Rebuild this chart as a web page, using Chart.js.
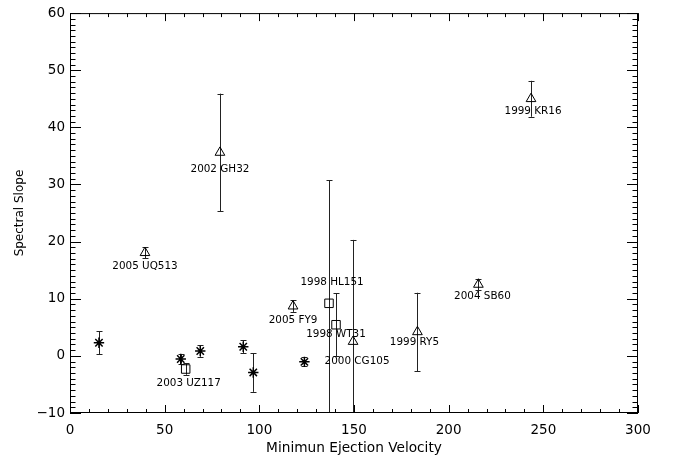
<!DOCTYPE html>
<html>
<head>
<meta charset="utf-8">
<script src="https://cdn.jsdelivr.net/npm/chart.js@4/dist/chart.umd.min.js"></script>
<style>
  html, body { margin: 0; padding: 0; background: #fff; }
  #wrap { width: 675px; height: 458px; }
</style>
</head>
<body>
<div id="wrap"><canvas id="chart"></canvas></div>
<script>
// objects without a name (asterisks)
const starX = [15.3, 58.5, 68.8, 91.5, 96.8, 123.8];
const starY = [2.3, -0.55, 0.85, 1.6, -2.9, -1.05];
const starErr = [2.0, 0.8, 1.0, 1.1, 3.4, 0.8];

// squares
const squareNames = ['2003 UZ117', '1998 HL151', '1998 WT31'];
const squareX = [61.1, 136.8, 140.5];
const squareY = [-2.3, 9.2, 5.45];
const squareErr = [1.0, 21.5, 5.5];

// triangles
const triNames = ['2005 UQ513', '2002 GH32', '2005 FY9', '2000 CG105', '1999 RY5', '2004 SB60', '1999 KR16'];
const triX = [39.6, 79.2, 117.8, 149.5, 183.5, 215.7, 243.5];
const triY = [18.05, 35.6, 8.7, 2.5, 4.2, 12.5, 45.0];
const triErr = [1.0, 10.3, 1.0, 17.8, 6.85, 1.0, 3.15];

const xTicks = [0, 50, 100, 150, 200, 250, 300];
const yTicks = [-10, 0, 10, 20, 30, 40, 50, 60];

// label placement in pixels relative to the point
const labelShift = {
    '2003 UZ117': [3, 14],
    '1998 HL151': [3, -21],
    '1998 WT31': [0, 10],
    '2000 CG105': [4, 20],
    '1999 RY5': [-3, 10],
    '2004 SB60': [4, 12],
    '2005 FY9': [0, 14],
    '1999 KR16': [2, 13],
    '2002 GH32': [0, 17],
    '2005 UQ513': [0, 14]
};

const FONT = 'DejaVu Sans';

function toPoints(xs, ys, errs, names) {
    return xs.map((x, i) => ({ x: x, y: ys[i], err: errs[i], name: names ? names[i] : null }));
}

// inward ticks on all four sides + box
const boxTicks = {
    id: 'boxTicks',
    afterDraw(chart) {
        const ctx = chart.ctx;
        const a = chart.chartArea;
        const xs = chart.scales.x;
        const ys = chart.scales.y;
        ctx.save();
        ctx.strokeStyle = '#000';
        ctx.lineWidth = 1;
        ctx.strokeRect(a.left + 0.5, a.top + 0.5, a.right - a.left - 1, a.bottom - a.top - 1);
        ctx.beginPath();
        for (let v = xs.min; v <= xs.max + 0.001; v += 10) {
            const px = Math.round(xs.getPixelForValue(v)) + 0.5;
            const len = (v % 50 === 0) ? 8 : 4;
            ctx.moveTo(px, a.bottom); ctx.lineTo(px, a.bottom - len);
            ctx.moveTo(px, a.top); ctx.lineTo(px, a.top + len);
        }
        for (let v = ys.min; v <= ys.max + 0.001; v += 1) {
            const py = Math.round(ys.getPixelForValue(v)) + 0.5;
            const len = (Math.round(v) % 10 === 0) ? 11 : 5.5;
            ctx.moveTo(a.left, py); ctx.lineTo(a.left + len, py);
            ctx.moveTo(a.right, py); ctx.lineTo(a.right - len, py);
        }
        ctx.stroke();
        ctx.restore();
    }
};

// error bars and name labels
const errAndLabels = {
    id: 'errAndLabels',
    beforeDatasetsDraw(chart) {
        const ctx = chart.ctx;
        const a = chart.chartArea;
        const xs = chart.scales.x;
        const ys = chart.scales.y;
        ctx.save();
        ctx.beginPath();
        ctx.rect(a.left, a.top, a.right - a.left, a.bottom - a.top);
        ctx.clip();
        ctx.strokeStyle = '#222';
        ctx.lineWidth = 1;
        chart.data.datasets.forEach(ds => {
            ds.data.forEach(p => {
                const px = Math.round(xs.getPixelForValue(p.x)) + 0.5;
                const top = ys.getPixelForValue(p.y + p.err);
                const bot = ys.getPixelForValue(p.y - p.err);
                ctx.beginPath();
                ctx.moveTo(px, top); ctx.lineTo(px, bot);
                ctx.moveTo(px - 3, Math.round(top) + 0.5); ctx.lineTo(px + 3, Math.round(top) + 0.5);
                ctx.moveTo(px - 3, Math.round(bot) + 0.5); ctx.lineTo(px + 3, Math.round(bot) + 0.5);
                ctx.stroke();
            });
        });
        ctx.restore();
    },
    afterDatasetsDraw(chart) {
        const ctx = chart.ctx;
        const xs = chart.scales.x;
        const ys = chart.scales.y;
        ctx.save();
        ctx.fillStyle = '#000';
        ctx.font = '10.4px "' + FONT + '"';
        ctx.textAlign = 'center';
        ctx.textBaseline = 'middle';
        chart.data.datasets.forEach(ds => {
            ds.data.forEach(p => {
                if (!p.name) return;
                const s = labelShift[p.name] || [0, 14];
                ctx.fillText(p.name, xs.getPixelForValue(p.x) + s[0], ys.getPixelForValue(p.y) + s[1]);
            });
        });
        ctx.restore();
    }
};

const ctx = document.getElementById('chart');
new Chart(ctx, {
    type: 'scatter',
    data: {
        datasets: [
            {
                data: toPoints(starX, starY, starErr),
                pointStyle: 'star',
                pointRadius: 5.2,
                borderColor: '#000',
                borderWidth: 1.5
            },
            {
                data: toPoints(squareX, squareY, squareErr, squareNames),
                pointStyle: 'rect',
                pointRadius: 6,
                borderColor: '#000',
                backgroundColor: 'rgba(0,0,0,0)',
                borderWidth: 1
            },
            {
                data: toPoints(triX, triY, triErr, triNames),
                pointStyle: 'triangle',
                pointRadius: 5.6,
                borderColor: '#000',
                backgroundColor: 'rgba(0,0,0,0)',
                borderWidth: 1
            }
        ]
    },
    options: {
        responsive: true,
        maintainAspectRatio: false,
        animation: false,
        events: [],
        layout: { padding: { top: 13, right: 37, left: 0, bottom: 0 } },
        plugins: {
            legend: { display: false },
            tooltip: { enabled: false }
        },
        scales: {
            x: {
                type: 'linear',
                min: 0,
                max: 300,
                afterFit: (scale) => { scale.height = 45; },
                afterBuildTicks: (scale) => { scale.ticks = xTicks.map(v => ({ value: v })); },
                grid: { display: false, drawTicks: false },
                border: { display: false },
                ticks: {
                    color: '#000',
                    padding: 9,
                    maxRotation: 0,
                    font: { family: FONT, size: 13.5 }
                },
                title: {
                    display: true,
                    text: 'Minimun Ejection Velocity',
                    color: '#000',
                    padding: { top: 0, bottom: 1 },
                    font: { family: FONT, size: 13.7 }
                }
            },
            y: {
                type: 'linear',
                min: -10,
                max: 60,
                afterFit: (scale) => { scale.width = 70; },
                afterBuildTicks: (scale) => { scale.ticks = yTicks.map(v => ({ value: v })); },
                grid: { display: false, drawTicks: false },
                border: { display: false },
                ticks: {
                    color: '#000',
                    padding: 5,
                    font: { family: FONT, size: 13.5 },
                    callback: (v) => String(v).replace('-', '\u2212')
                },
                title: {
                    display: true,
                    text: 'Spectral Slope',
                    color: '#000',
                    padding: { top: 13, bottom: 0 },
                    font: { family: FONT, size: 12 }
                }
            }
        }
    },
    plugins: [errAndLabels, boxTicks]
});
</script>
</body>
</html>
